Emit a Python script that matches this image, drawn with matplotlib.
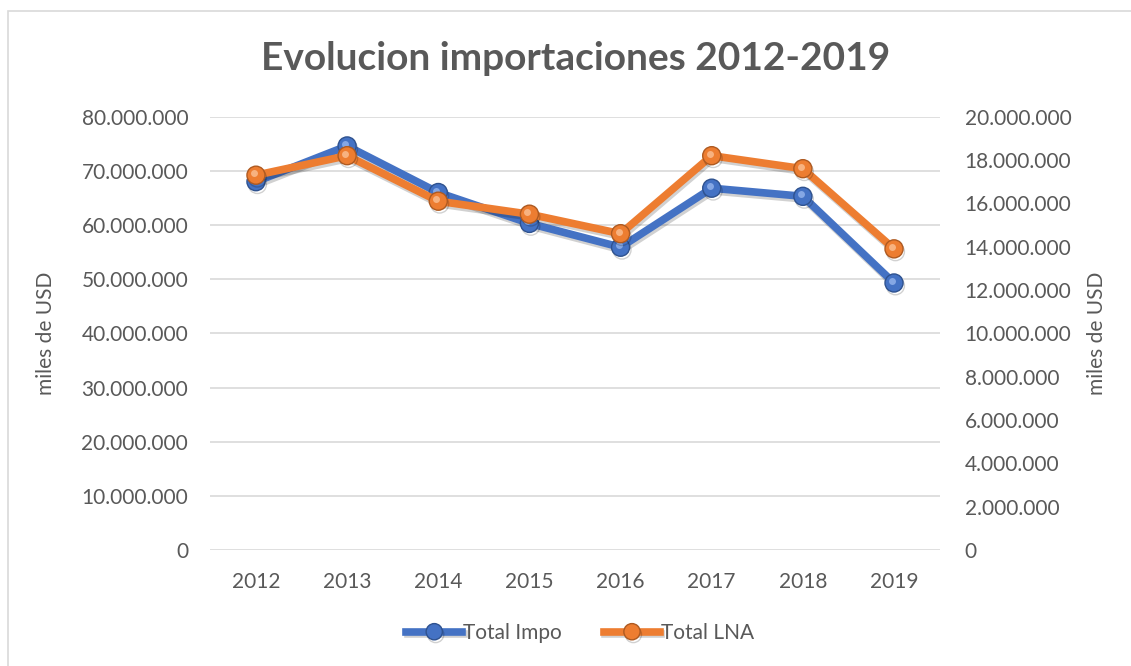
import matplotlib
matplotlib.use("Agg")
import matplotlib.pyplot as plt
import matplotlib.patheffects as pe
import matplotlib.transforms as mtrans
from matplotlib.ticker import FuncFormatter, MultipleLocator
from matplotlib.patches import Rectangle

years = ["2012", "2013", "2014", "2015", "2016", "2017", "2018", "2019"]
total_impo = [68.0e6, 74.6e6, 66.0e6, 60.3e6, 55.9e6, 66.8e6, 65.3e6, 49.3e6]
total_lna = [17.3e6, 18.2e6, 16.1e6, 15.5e6, 14.6e6, 18.2e6, 17.6e6, 13.9e6]

plt.rcParams['font.family'] = ['Lato', 'DejaVu Sans']
txt = '#595959'
blue = '#4472c4'
orange = '#ed7d31'
fs = 15

fig = plt.figure(figsize=(11.31, 6.66), dpi=100)
fig.patches.append(Rectangle((8/1131, -0.05), 1.2, 1 - 11/666 + 0.05, transform=fig.transFigure,
                             fill=False, edgecolor='#d9d9d9', lw=1.2))

ax = fig.add_axes([210.4/1131, 1 - 550/666, 729.2/1131, 433.3/666])
ax2 = ax.twinx()

x = list(range(len(years)))

def fmt(v, pos):
    return f"{int(round(v)):,}".replace(",", ".")

shadow = [pe.SimpleLineShadow(offset=(1, -2), shadow_color='black', alpha=0.18), pe.Normal()]
hl_off = mtrans.ScaledTranslation(-2/100, 2/100, fig.dpi_scale_trans)

l1, = ax.plot(x, total_impo, color=blue, lw=5.5, marker='o', ms=13,
              markerfacecolor=blue, markeredgecolor='#2f528f', markeredgewidth=1.0,
              label='Total Impo', path_effects=shadow, zorder=3)
ax.plot(x, total_impo, ls='none', marker='o', ms=5, markerfacecolor='#9cbaf0',
        markeredgecolor='none', alpha=0.75, zorder=4,
        transform=ax.transData + hl_off)
l2, = ax2.plot(x, total_lna, color=orange, lw=5.5, marker='o', ms=13,
               markerfacecolor=orange, markeredgecolor='#ae5a21', markeredgewidth=1.0,
               label='Total LNA', path_effects=shadow, zorder=3)
ax2.plot(x, total_lna, ls='none', marker='o', ms=5, markerfacecolor='#fbc59c',
         markeredgecolor='none', alpha=0.75, zorder=4,
         transform=ax2.transData + hl_off)

ax.set_xlim(-0.5, len(years) - 0.5)
ax.set_ylim(0, 80e6)
ax2.set_ylim(0, 20e6)
ax.yaxis.set_major_locator(MultipleLocator(10e6))
ax2.yaxis.set_major_locator(MultipleLocator(2e6))
ax.yaxis.set_major_formatter(FuncFormatter(fmt))
ax2.yaxis.set_major_formatter(FuncFormatter(fmt))
ax.set_xticks(x)
ax.set_xticklabels(years)

ax.grid(axis='y', color='#d9d9d9', lw=1.2)
ax.set_axisbelow(True)
for a in (ax, ax2):
    for s in a.spines.values():
        s.set_visible(False)
    a.tick_params(length=0, labelsize=fs, labelcolor=txt)
ax.tick_params(axis='y', pad=16)
ax2.tick_params(axis='y', pad=18)
ax.tick_params(axis='x', pad=16)

ax.set_ylabel('miles de USD', fontsize=fs, color=txt, labelpad=18)
ax2.set_ylabel('miles de USD', fontsize=fs, color=txt, labelpad=11)

fig.text(576/1131, 1 - 58/666, 'Evolucion importaciones 2012-2019', ha='center', va='center',
         fontsize=28, fontweight='bold', color=txt)

fig.legend(handles=[l1, l2], loc='center', bbox_to_anchor=(0.513, 1 - 633/666), ncol=2,
           frameon=False, fontsize=fs, labelcolor=txt, handlelength=2.7,
           handletextpad=0.05, columnspacing=2.0, markerscale=0.9)

fig.savefig('out.png', dpi=100)
